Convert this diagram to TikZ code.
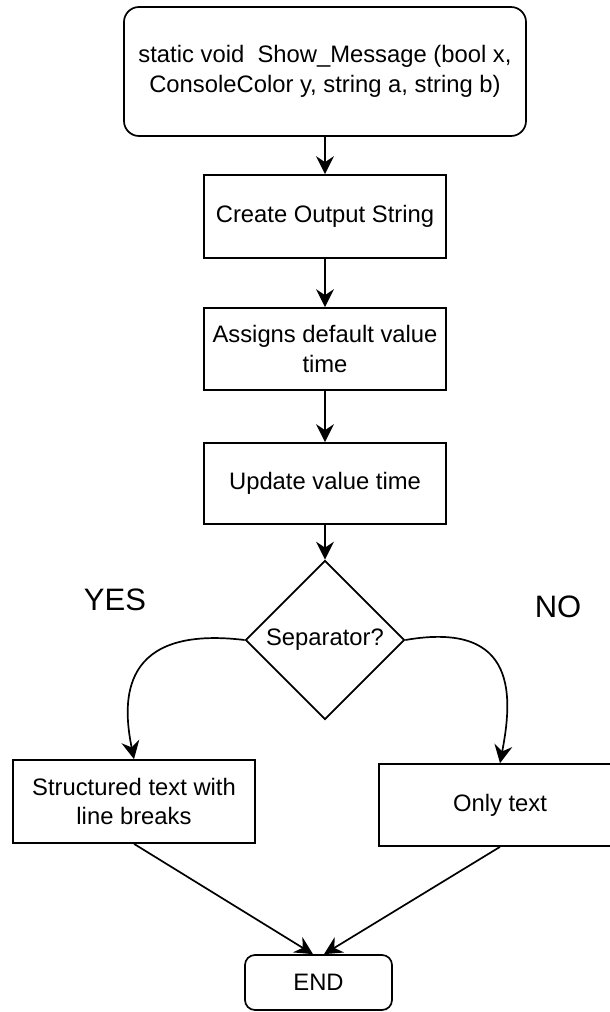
\documentclass[tikz,border=0pt]{standalone}
\usepackage{fontspec}
\setmainfont{Liberation Sans}
\usetikzlibrary{shapes.geometric,arrows.meta}
\begin{document}
\begin{tikzpicture}[x=1pt,y=-1pt,
  every node/.style={font=\fontsize{23.8}{29.5}\selectfont, text=black},
  proc/.style={draw, line width=1.7pt, minimum width=242pt, inner sep=0pt, align=center},
  term/.style={proc, rounded corners=15pt},
  decision/.style={draw, diamond, line width=1.7pt, minimum size=159pt, inner sep=0pt},
  flow/.style={line width=1.7pt, -{Stealth[length=18pt,width=18pt,inset=6pt]}},
  answer/.style={font=\fontsize{31}{37}\selectfont}]
  \useasboundingbox (0,0) rectangle (610,1012);

  % main column
  \node[term, minimum width=402pt, minimum height=129pt] (start) at (325,71.5)
    {static void\ \ Show\_Message (bool x,\\ConsoleColor y, string a, string b)};
  \node[proc, minimum height=83pt] (create) at (325,216.5) {Create Output String};
  \node[proc, minimum height=82pt] (assign) at (325,349) {Assigns default value\\time};
  \node[proc, minimum height=81pt] (update) at (325,483.5) {Update value time};
  \node[decision] (sep) at (325,640) {Separator?};

  % branches
  \node[proc, minimum height=83pt] (structured) at (134,801.5) {Structured text with\\line breaks};
  \node[proc, minimum height=82pt] (plain) at (500,805) {Only text};
  \node[term, minimum width=147pt, minimum height=55pt, rounded corners=10pt] (end) at (318.5,982.5) {END};

  \node[answer] (yes) at (115,600) {YES};
  \node[answer] (no) at (558,607) {NO};

  % connectors
  \draw[flow] (start) -- (create);
  \draw[flow] (create) -- (assign);
  \draw[flow] (assign) -- (update);
  \draw[flow] (update) -- (sep);
  \draw[flow] (sep.west) .. controls (120,625) and (122,700) .. (structured.north);
  \draw[flow] (sep.east) .. controls (520,620) and (512,700) .. (plain.north);
  \draw[flow] (structured.south) -- (end.101);
  \draw[flow] (plain.south) -- (end.79);
\end{tikzpicture}
\end{document}
